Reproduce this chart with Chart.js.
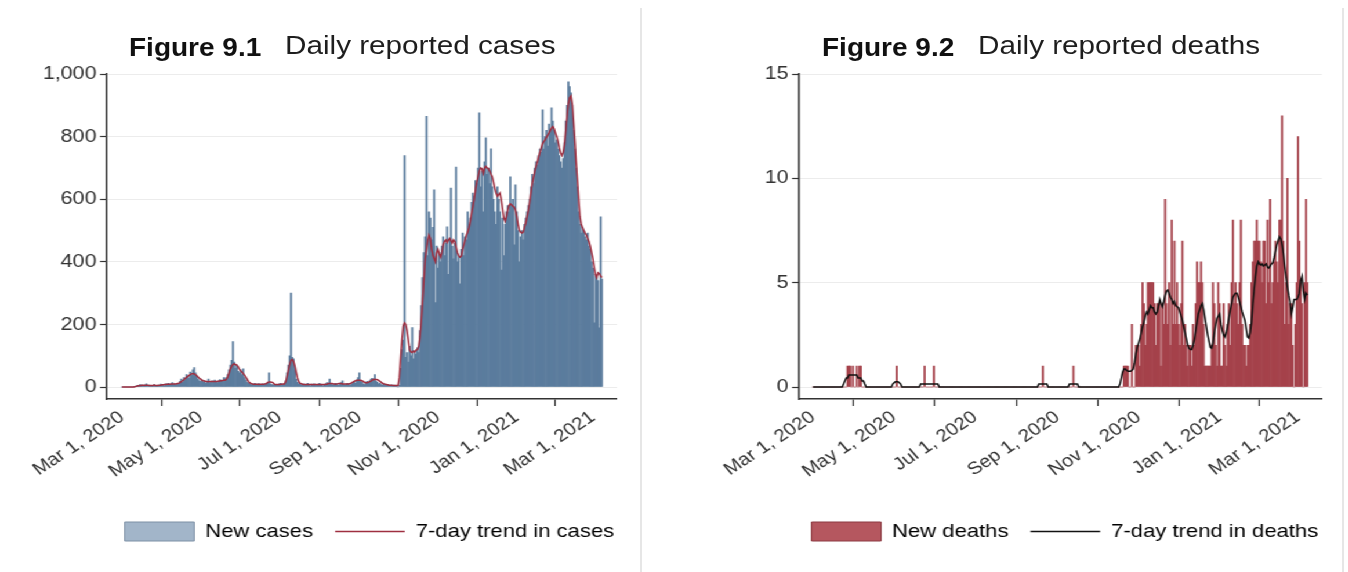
<!DOCTYPE html>
<html>
<head>
<meta charset="utf-8">
<script src="https://cdn.jsdelivr.net/npm/chart.js@4.4.1/dist/chart.umd.min.js"></script>
<style>
  html, body { margin: 0; padding: 0; background: #fff; width: 1348px; height: 572px; overflow: hidden; }
  /* the two panels are laid out on a narrower stage and widened horizontally */
  #stage { position: absolute; left: 0; top: 0; width: 1162px; height: 572px; transform: scaleX(1.16); transform-origin: 0 0; }
  #stage canvas { position: absolute; top: 60px; }
  .t { position: absolute; white-space: nowrap; font-family: 'Liberation Sans', Arial, sans-serif; color: #111; line-height: 1; transform: scaleX(1.12); transform-origin: 0 0; }
  .fig { font-weight: bold; font-size: 25px; top: 34.8px; }
  .sub { font-size: 26.5px; color: #1e1e1e; top: 31.6px; }
  .rule { position: absolute; top: 8px; bottom: 0; width: 2px; background: #e6e6e6; }
</style>
</head>
<body>
<div id="stage">
  <canvas id="casesChart" width="637" height="512" style="left:0px;"></canvas>
  <canvas id="deathsChart" width="636" height="512" style="left:600px;"></canvas>
</div>
<div class="t fig" style="left:129px;">Figure 9.1</div>
<div class="t sub" style="left:285px;">Daily reported cases</div>
<div class="t fig" style="left:822px;">Figure 9.2</div>
<div class="t sub" style="left:978px;">Daily reported deaths</div>
<div class="rule" style="left:640px;"></div>
<div class="rule" style="left:1342px;"></div>

<script>
// Day 0 = Mar 1, 2020; one value per day through Mar 8, 2021.
const dateTickDays = [0, 61, 122, 184, 245, 306, 365];
const dateTickLabels = ['Mar 1, 2020', 'May 1, 2020', 'Jul 1, 2020', 'Sep 1, 2020', 'Nov 1, 2020', 'Jan 1, 2021', 'Mar 1, 2021'];

const caseTickValues = [0, 200, 400, 600, 800, 1000];
const caseTickLabels = ['0', '200', '400', '600', '800', '1,000'];
const deathTickValues = [0, 5, 10, 15];
const deathTickLabels = ['0', '5', '10', '15'];

const newCases = [
  0,0,0,0,0,0,0,0,0,0, 2,3,5,4,8,6,3,5,7,10, 4,6,3,2,5,8,4,3,6,5, 9,                                   // Mar 2020
  5,8,4,10,6,12,7,9,14,8, 10,6,11,9,18,25,15,30,22,40, 35,28,48,38,55,62,45,35,25,20,                   // Apr
  18,22,15,20,12,16,25,14,18,20, 15,22,17,14,19,24,18,21,30,25, 30,40,55,70,85,145,80,60,70,50, 45,     // May
  55,40,58,30,22,15,12,10,8,10, 6,12,9,7,11,5,8,10,6,9, 12,15,45,10,8,6,9,7,5,8,                        // Jun
  10,12,6,9,8,20,45,70,100,300, 95,90,55,25,15,10,12,8,6,10, 5,8,12,7,4,9,6,10,8,5, 7,                 // Jul
  12,9,6,4,8,10,14,9,25,12, 8,6,10,12,7,5,9,14,20,8, 6,10,12,8,5,9,15,18,12,22, 30,                    // Aug
  45,20,15,10,8,12,18,14,20,25, 28,22,40,18,15,10,12,8,6,10, 7,5,8,6,4,7,5,6,4,3,                      // Sep
  0,5,60,120,150,740,95,110,80,130, 100,190,90,115,105,125,110,180,260,350, 430,480,865,420,560,540,470,510,630,270, 450, // Oct
  380,430,400,450,480,420,460,512,360,470, 636,450,410,460,703,400,420,330,440,492, 420,480,470,560,520,540,590,620,610,660, // Nov
  650,700,876,640,690,560,720,796,680,700, 650,761,640,600,560,520,640,600,560,374, 540,420,520,560,580,560,672,580,600,454, 646, // Dec
  560,500,400,480,500,470,520,540,560,580, 600,640,680,650,700,720,710,740,760,750, 886,760,800,820,770,840,820,892,850,820, 780, // Jan 2021
  790,760,740,720,700,730,780,850,900,975, 960,940,900,820,760,700,640,560,520,492, 510,500,480,470,492,450,440,400, // Feb
  380,205,360,350,340,189,544,345                                                                        // Mar
];

const casesTrend = [
  0,0,0,0,0,0,0,0,0,0, 1,2,3,4,5,5,6,5,6,6, 6,5,5,5,5,6,5,5,5,6, 6,
  7,7,8,8,9,9,9,10,10,10, 10,10,11,12,14,17,20,23,27,31, 34,37,40,42,43,42,40,36,32,28,
  25,22,20,19,18,18,17,18,18,18, 18,18,18,18,19,19,20,21,22,22, 25,33,45,58,66,72,74,72,70,65, 57,
  52,48,43,38,32,25,18,14,11,10, 9,9,9,9,8,9,9,9,9,10, 11,15,16,16,15,14,9,8,8,8,
  8,9,9,10,10,18,35,55,72,85, 88,82,68,48,30,18,12,11,9,8, 8,8,8,8,8,8,8,8,8,8, 8,
  8,8,8,8,8,9,9,11,11,11, 11,10,10,9,10,11,11,11,10,10, 10,10,10,10,11,13,16,18,20,22, 22,
  22,22,20,18,15,14,14,15,17,19, 22,24,25,24,23,21,18,15,12,10, 9,8,7,6,6,6,5,5,5,5,
  5,30,90,150,195,205,200,180,150,118, 112,110,115,112,118,120,130,160,210,270, 340,410,440,470,485,475,440,420,410,400, 430,
  440,425,415,430,455,465,470,462,470,475, 468,460,470,465,448,430,420,415,418,440, 455,470,485,495,510,530,555,575,600,630,
  655,672,690,700,698,683,700,705,700,698, 690,680,672,655,635,620,610,615,620,600, 570,540,530,545,565,580,585,582,578,575, 565,
  545,520,500,495,492,495,510,525,545,565, 590,620,650,670,690,705,720,735,750,765, 778,785,790,798,805,812,820,828,832,825, 812,
  800,785,765,748,740,750,775,820,865,905, 925,930,905,850,790,720,660,600,545,520, 510,500,492,485,475,465,450,430,
  410,385,360,350,365,362,355,350
];

const newDeaths = [
  0,0,0,0,0,0,0,0,0,0, 0,0,0,0,0,0,0,0,0,0, 0,0,0,0,0,0,1,1,1,0, 1,
  0,0,1,0,1,1,0,0,0,0, 0,0,0,0,0,0,0,0,0,0, 0,0,0,0,0,0,0,0,0,0,
  0,0,1,0,0,0,0,0,0,0, 0,0,0,0,0,0,0,0,0,0, 0,0,0,1,0,0,0,0,0,0, 1,
  0,0,0,0,0,0,0,0,0,0, 0,0,0,0,0,0,0,0,0,0, 0,0,0,0,0,0,0,0,0,0,
  0,0,0,0,0,0,0,0,0,0, 0,0,0,0,0,0,0,0,0,0, 0,0,0,0,0,0,0,0,0,0, 0,
  0,0,0,0,0,0,0,0,0,0, 0,0,0,0,0,0,0,0,0,0, 1,0,0,0,0,0,0,0,0,0, 0,
  0,0,0,0,0,0,0,0,0,0, 0,0,1,0,0,0,0,0,0,0, 0,0,0,0,0,0,0,0,0,0,
  0,0,0,0,0,0,0,0,0,0, 0,0,0,0,0,0,0,0,0,0, 1,1,1,1,0,0,3,0,0,2, 2,
  2,1,3,5,4,2,3,5,5,5, 5,5,4,2,4,4,4,1,4,3, 9,4,3,5,2,8,3,7,3,5,
  3,2,4,7,2,3,2,1,2,2, 1,3,2,4,6,5,5,6,5,3, 1,1,1,1,1,2,5,4,2,1, 5,
  4,1,1,4,2,1,3,4,2,5, 8,4,5,4,3,5,8,3,2,2, 1,2,2,3,5,6,7,7,8,7, 7,
  6,5,7,7,4,8,5,9,4,5, 6,7,6,5,8,8,13,7,3,5, 10,3,4,4,2,0,3,5,
  12,7,5,4,0,5,9,5
];

const deathsTrend = [
  0,0,0,0,0,0,0,0,0,0, 0,0,0,0,0,0,0,0,0,0, 0,0,0,0.14,0.29,0.43,0.43,0.57,0.57,0.57, 0.57,
  0.57,0.57,0.57,0.43,0.43,0.43,0.29,0.29,0.14,0, 0,0,0,0,0,0,0,0,0,0, 0,0,0,0,0,0,0,0,0,0.14,
  0.2,0.25,0.25,0.25,0.2,0.14,0,0,0,0, 0,0,0,0,0,0,0,0,0,0, 0.14,0.14,0.14,0.14,0.14,0.14,0.14,0.14,0.14,0.14, 0.14,
  0.14,0.14,0.14,0,0,0,0,0,0,0, 0,0,0,0,0,0,0,0,0,0, 0,0,0,0,0,0,0,0,0,0,
  0,0,0,0,0,0,0,0,0,0, 0,0,0,0,0,0,0,0,0,0, 0,0,0,0,0,0,0,0,0,0, 0,
  0,0,0,0,0,0,0,0,0,0, 0,0,0,0,0,0,0,0.14,0.14,0.14, 0.14,0.14,0.14,0.14,0,0,0,0,0,0, 0,
  0,0,0,0,0,0,0,0,0,0.14, 0.14,0.14,0.14,0.14,0.14,0.14,0,0,0,0, 0,0,0,0,0,0,0,0,0,0,
  0,0,0,0,0,0,0,0,0,0, 0,0,0,0,0,0,0,0.14,0.43,0.71, 0.86,0.86,0.8,0.75,0.75,0.75,0.8,0.86,1.14,1.6, 1.9,
  2.1,2.3,2.6,2.9,3.1,3.4,3.6,3.5,3.7,3.9, 3.8,3.8,3.6,3.5,3.6,3.9,4.2,4.0,3.85,4.1, 4.4,4.6,4.65,4.5,4.3,4.2,4.0,4.1,3.9,3.85,
  3.8,3.6,3.4,3.2,2.9,2.6,2.3,2.0,1.85,1.8, 1.8,2.0,2.3,2.7,3.1,3.5,3.7,3.9,4.0,3.7, 3.3,2.9,2.5,2.2,1.9,1.86,2.1,2.6,3.0,3.3, 3.4,
  3.5,3.0,2.7,2.5,2.4,2.6,2.9,3.3,3.7,4.0, 4.3,4.4,4.5,4.5,4.3,4.1,3.85,3.6,3.4,3.2, 2.8,2.4,2.35,2.6,3.1,4.0,4.7,5.3,5.8,6.0, 5.9,
  5.85,5.9,5.8,5.85,5.9,5.75,5.7,5.8,5.9,5.95, 6.2,6.5,6.8,7.0,7.2,7.1,6.8,6.4,5.8,5.3, 4.8,4.4,4.1,3.5,3.8,4.2,4.2,4.2,
  4.3,4.5,5.1,5.3,4.6,4.2,4.5,4.4
];

Chart.defaults.font.family = "'Liberation Sans', Arial, sans-serif";
Chart.defaults.color = '#333';

const AXIS = '#333';
const Y_TICK_FONT = { size: 18.5 };
const X_TICK_FONT = { size: 17.5 };

function byDay(values) {
  return values.map((v, i) => ({ x: i, y: v }));
}

function dailyChart(canvasId, cfg) {
  return new Chart(document.getElementById(canvasId), {
    type: 'bar',
    data: {
      datasets: [
        {
          type: 'line', label: cfg.lineLabel, data: byDay(cfg.trend),
          borderColor: cfg.lineColor, borderWidth: 1.5, pointRadius: 0, tension: 0, order: 0
        },
        {
          type: 'bar', label: cfg.barLabel, data: byDay(cfg.daily),
          backgroundColor: cfg.barColor, borderWidth: 0,
          barPercentage: 1, categoryPercentage: 1, order: 1
        }
      ]
    },
    options: {
      responsive: false,
      animation: false,
      events: [],
      layout: { padding: { top: 14, bottom: 21, left: 0, right: 0 } },
      plugins: {
        tooltip: { enabled: false },
        legend: {
          position: 'bottom',
          labels: {
            usePointStyle: true, pointStyleWidth: 60, boxHeight: 19,
            padding: 19, color: '#222', font: { size: 19 },
            generateLabels: () => [
              { text: cfg.barLabel, fillStyle: cfg.swatchFill, strokeStyle: cfg.swatchStroke,
                lineWidth: 1, pointStyle: 'rect', hidden: false, datasetIndex: 1 },
              { text: cfg.lineLabel, fillStyle: cfg.lineColor, strokeStyle: cfg.lineColor,
                lineWidth: 1.3, pointStyle: 'line', hidden: false, datasetIndex: 0 }
            ]
          }
        }
      },
      scales: {
        x: {
          type: 'linear', min: cfg.xMin, max: cfg.xMax, offset: false,
          afterFit: s => { s.height = 104; },
          afterBuildTicks: s => { s.ticks = dateTickDays.map(v => ({ value: v })); },
          grid: { drawOnChartArea: false, drawTicks: true, tickLength: 7, tickColor: AXIS, tickWidth: 1.2 },
          border: { display: true, color: AXIS, width: 1.5 },
          ticks: {
            autoSkip: false, minRotation: 37, maxRotation: 37, padding: 1,
            color: '#333', font: X_TICK_FONT,
            callback: (v, i) => dateTickLabels[i]
          }
        },
        y: {
          type: 'linear', min: cfg.yMin, max: cfg.yMax,
          afterFit: s => { s.width = cfg.yWidth; },
          afterBuildTicks: s => { s.ticks = cfg.yTicks.map(v => ({ value: v })); },
          grid: { color: '#ececec', lineWidth: 1, drawTicks: true, tickLength: 6, tickColor: AXIS, tickWidth: 1.2 },
          border: { display: true, color: AXIS, width: 1.5 },
          ticks: {
            padding: 3, color: '#333', font: Y_TICK_FONT,
            callback: v => cfg.yLabels[cfg.yTicks.indexOf(v)]
          }
        },
        gap: {
          type: 'linear', position: 'right', display: true,
          afterFit: s => { s.width = cfg.rightGap; },
          grid: { display: false }, ticks: { display: false }, border: { display: false }
        }
      }
    }
  });
}

dailyChart('casesChart', {
  daily: newCases, trend: casesTrend,
  barLabel: 'New cases', lineLabel: '7-day trend in cases',
  barColor: '#5b7c9d', swatchFill: '#a2b5c9', swatchStroke: '#7d90a5', lineColor: '#9e2f40',
  xMin: -11.63, xMax: 383.7, yMin: -38.3, yMax: 1000,
  yTicks: caseTickValues, yLabels: caseTickLabels,
  yWidth: 92.2, rightGap: 105.1
});

dailyChart('deathsChart', {
  daily: newDeaths, trend: deathsTrend,
  barLabel: 'New deaths', lineLabel: '7-day trend in deaths',
  barColor: '#a5424b', swatchFill: '#b5575f', swatchStroke: '#8c3a42', lineColor: '#111',
  xMin: -10.53, xMax: 383.0, yMin: -0.575, yMax: 15,
  yTicks: deathTickValues, yLabels: deathTickLabels,
  yWidth: 88.8, rightGap: 96.4
});
</script>
</body>
</html>
